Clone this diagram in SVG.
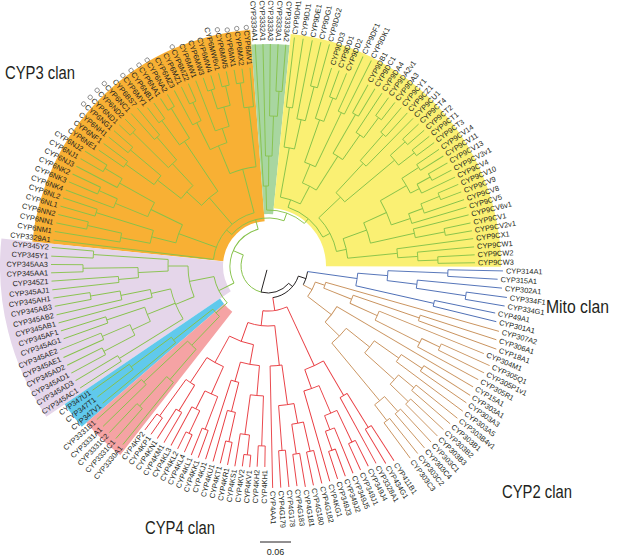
<svg xmlns="http://www.w3.org/2000/svg" width="617" height="558" viewBox="0 0 617 558">
<style>
#wedges circle{fill:none}
#connectors line,#connectors circle{fill:none;stroke-width:0.9}
.cg{stroke:#86c24a}.cr{stroke:#e8393e}.cb{stroke:#c9935e}.cm{stroke:#4a6cb4}.ck{stroke:#231f20}
#labels text{font-family:"Liberation Sans",Arial,sans-serif;font-size:7.4px;fill:#231f20;dominant-baseline:central}
#labels .e{text-anchor:end}
.mk{fill:none;stroke:#555;stroke-width:0.6}
.clan{font-family:"Liberation Sans",Arial,sans-serif;font-size:17.5px;fill:#231f20}
</style>
<rect width="617" height="558" fill="#fff"/>
<g transform="translate(268,266)">
<g id="wedges">
<circle r="141" stroke="#f8b034" stroke-width="192" pathLength="360" stroke-dasharray="79.8 999" transform="rotate(185.9)"/>
<circle r="137" stroke="#a8d6a0" stroke-width="170" pathLength="360" stroke-dasharray="9.9 999" transform="rotate(265.7)"/>
<circle r="145.5" stroke="#faf073" stroke-width="175" pathLength="360" stroke-dasharray="84.6 999" transform="rotate(275.6)"/>
<circle r="156.5" stroke="#e5d6ea" stroke-width="223" pathLength="360" stroke-dasharray="40.1 999" transform="rotate(145.8)"/>
<circle r="152" stroke="#60c9ec" stroke-width="188" pathLength="360" stroke-dasharray="6.6 999" transform="rotate(139.2)"/>
<circle r="149" stroke="#f5a3a4" stroke-width="182" pathLength="360" stroke-dasharray="11.2 999" transform="rotate(128)"/>
</g>
<g id="connectors">
<g class="ck">
<line x1="4" x2="27" transform="rotate(105)"/>
<circle r="27" pathLength="360" stroke-dasharray="65 999" transform="rotate(40)"/>
<line x1="27" x2="32" transform="rotate(40)"/>
<circle r="32" pathLength="360" stroke-dasharray="62.95 999" transform="rotate(18.4)"/>
<line x1="32" x2="40" transform="rotate(18.4)"/>
<circle r="40" pathLength="360" stroke-dasharray="20.1 999" transform="rotate(8)"/>
</g>
<g class="cg">
<circle r="27" pathLength="360" stroke-dasharray="99 999" transform="rotate(105)"/>
<line x1="27" x2="38" transform="rotate(204)"/>
<circle r="38" pathLength="360" stroke-dasharray="101.6 999" transform="rotate(153.4)"/>
<line x1="38" x2="55" transform="rotate(153.4)"/>
<line x1="38" x2="48" transform="rotate(255)"/>
<circle r="48" pathLength="360" stroke-dasharray="68.5 999" transform="rotate(221)"/>
<line x1="48" x2="55" transform="rotate(221)"/>
<line x1="48" x2="56" transform="rotate(289.5)"/>
<circle r="56" pathLength="360" stroke-dasharray="41.95 999" transform="rotate(268.55)"/>
<line x1="56" x2="80" transform="rotate(268.55)"/>
<line x1="56" x2="62" transform="rotate(310.5)"/>
<circle r="62" pathLength="360" stroke-dasharray="43.4 999" transform="rotate(288.85)"/>
<line x1="62" x2="70" transform="rotate(288.85)"/>
<line x1="62" x2="70" transform="rotate(332.25)"/>
<circle r="55" pathLength="360" stroke-dasharray="68.45 999" transform="rotate(186.9)"/>
<line x1="55" x2="216" transform="rotate(186.9)"/>
<line x1="55" x2="95" transform="rotate(199.9)"/>
<circle r="95" pathLength="360" stroke-dasharray="11.65 999" transform="rotate(194.1)"/>
<line x1="95" x2="120" transform="rotate(194.1)"/>
<circle r="120" pathLength="360" stroke-dasharray="6.35 999" transform="rotate(190.9)"/>
<line x1="120" x2="150" transform="rotate(190.9)"/>
<circle r="150" pathLength="360" stroke-dasharray="3.45 999" transform="rotate(189.2)"/>
<line x1="150" x2="216" transform="rotate(189.2)"/>
<line x1="150" x2="185" transform="rotate(192.65)"/>
<circle r="185" pathLength="360" stroke-dasharray="2.3 999" transform="rotate(191.5)"/>
<line x1="185" x2="216" transform="rotate(191.5)"/>
<line x1="185" x2="216" transform="rotate(193.8)"/>
<line x1="120" x2="180" transform="rotate(197.25)"/>
<circle r="180" pathLength="360" stroke-dasharray="2.3 999" transform="rotate(196.1)"/>
<line x1="180" x2="216" transform="rotate(196.1)"/>
<line x1="180" x2="216" transform="rotate(198.4)"/>
<line x1="95" x2="130" transform="rotate(205.75)"/>
<circle r="130" pathLength="360" stroke-dasharray="6.9 999" transform="rotate(202.3)"/>
<line x1="130" x2="165" transform="rotate(202.3)"/>
<circle r="165" pathLength="360" stroke-dasharray="3.45 999" transform="rotate(200.6)"/>
<line x1="165" x2="216" transform="rotate(200.6)"/>
<line x1="165" x2="185" transform="rotate(204.05)"/>
<circle r="185" pathLength="360" stroke-dasharray="2.3 999" transform="rotate(202.9)"/>
<line x1="185" x2="216" transform="rotate(202.9)"/>
<line x1="185" x2="216" transform="rotate(205.2)"/>
<line x1="130" x2="170" transform="rotate(209.2)"/>
<circle r="170" pathLength="360" stroke-dasharray="3.45 999" transform="rotate(207.5)"/>
<line x1="170" x2="216" transform="rotate(207.5)"/>
<line x1="170" x2="190" transform="rotate(210.95)"/>
<circle r="190" pathLength="360" stroke-dasharray="2.3 999" transform="rotate(209.8)"/>
<line x1="190" x2="216" transform="rotate(209.8)"/>
<line x1="190" x2="216" transform="rotate(212.1)"/>
<line x1="55" x2="90" transform="rotate(229.3)"/>
<circle r="90" pathLength="360" stroke-dasharray="13.75 999" transform="rotate(222.4)"/>
<line x1="90" x2="110" transform="rotate(222.4)"/>
<circle r="110" pathLength="360" stroke-dasharray="9.1 999" transform="rotate(217.85)"/>
<line x1="110" x2="140" transform="rotate(217.85)"/>
<circle r="140" pathLength="360" stroke-dasharray="4.6 999" transform="rotate(215.55)"/>
<line x1="140" x2="175" transform="rotate(215.55)"/>
<circle r="175" pathLength="360" stroke-dasharray="2.3 999" transform="rotate(214.4)"/>
<line x1="175" x2="205" transform="rotate(214.4)"/>
<line x1="175" x2="205" transform="rotate(216.7)"/>
<line x1="140" x2="180" transform="rotate(220.15)"/>
<circle r="180" pathLength="360" stroke-dasharray="2.3 999" transform="rotate(219)"/>
<line x1="180" x2="205" transform="rotate(219)"/>
<line x1="180" x2="205" transform="rotate(221.3)"/>
<line x1="110" x2="140" transform="rotate(226.95)"/>
<circle r="140" pathLength="360" stroke-dasharray="4.6 999" transform="rotate(224.65)"/>
<line x1="140" x2="190" transform="rotate(224.65)"/>
<circle r="190" pathLength="360" stroke-dasharray="2.3 999" transform="rotate(223.5)"/>
<line x1="190" x2="205" transform="rotate(223.5)"/>
<line x1="190" x2="205" transform="rotate(225.8)"/>
<line x1="140" x2="170" transform="rotate(229.25)"/>
<circle r="170" pathLength="360" stroke-dasharray="2.3 999" transform="rotate(228.1)"/>
<line x1="170" x2="205" transform="rotate(228.1)"/>
<line x1="170" x2="205" transform="rotate(230.4)"/>
<line x1="90" x2="150" transform="rotate(236.15)"/>
<circle r="150" pathLength="360" stroke-dasharray="4.6 999" transform="rotate(233.85)"/>
<line x1="150" x2="180" transform="rotate(233.85)"/>
<circle r="180" pathLength="360" stroke-dasharray="2.3 999" transform="rotate(232.7)"/>
<line x1="180" x2="199" transform="rotate(232.7)"/>
<line x1="180" x2="199" transform="rotate(235)"/>
<line x1="150" x2="185" transform="rotate(238.45)"/>
<circle r="185" pathLength="360" stroke-dasharray="2.3 999" transform="rotate(237.3)"/>
<line x1="185" x2="199" transform="rotate(237.3)"/>
<line x1="185" x2="199" transform="rotate(239.6)"/>
<line x1="55" x2="100" transform="rotate(255.35)"/>
<circle r="100" pathLength="360" stroke-dasharray="15.5 999" transform="rotate(247.6)"/>
<line x1="100" x2="130" transform="rotate(247.6)"/>
<circle r="130" pathLength="360" stroke-dasharray="8 999" transform="rotate(243.6)"/>
<line x1="130" x2="160" transform="rotate(243.6)"/>
<circle r="160" pathLength="360" stroke-dasharray="3.4 999" transform="rotate(241.9)"/>
<line x1="160" x2="199" transform="rotate(241.9)"/>
<line x1="160" x2="180" transform="rotate(245.3)"/>
<circle r="180" pathLength="360" stroke-dasharray="2.2 999" transform="rotate(244.2)"/>
<line x1="180" x2="199" transform="rotate(244.2)"/>
<line x1="180" x2="199" transform="rotate(246.4)"/>
<line x1="130" x2="145" transform="rotate(251.6)"/>
<circle r="145" pathLength="360" stroke-dasharray="5.75 999" transform="rotate(248.7)"/>
<line x1="145" x2="199" transform="rotate(248.7)"/>
<line x1="145" x2="165" transform="rotate(254.45)"/>
<circle r="165" pathLength="360" stroke-dasharray="4.6 999" transform="rotate(252.15)"/>
<line x1="165" x2="185" transform="rotate(252.15)"/>
<circle r="185" pathLength="360" stroke-dasharray="2.3 999" transform="rotate(251)"/>
<line x1="185" x2="199" transform="rotate(251)"/>
<line x1="185" x2="199" transform="rotate(253.3)"/>
<line x1="165" x2="185" transform="rotate(256.75)"/>
<circle r="185" pathLength="360" stroke-dasharray="2.3 999" transform="rotate(255.6)"/>
<line x1="185" x2="199" transform="rotate(255.6)"/>
<line x1="185" x2="199" transform="rotate(257.9)"/>
<line x1="100" x2="160" transform="rotate(263.1)"/>
<circle r="160" pathLength="360" stroke-dasharray="3.45 999" transform="rotate(261.35)"/>
<line x1="160" x2="199" transform="rotate(264.8)"/>
<line x1="160" x2="185" transform="rotate(261.35)"/>
<circle r="185" pathLength="360" stroke-dasharray="2.3 999" transform="rotate(260.2)"/>
<line x1="185" x2="199" transform="rotate(260.2)"/>
<line x1="185" x2="199" transform="rotate(262.5)"/>
<circle r="80" pathLength="360" stroke-dasharray="3.7 999" transform="rotate(266.7)"/>
<line x1="80" x2="222" transform="rotate(266.7)"/>
<line x1="80" x2="110" transform="rotate(270.4)"/>
<circle r="110" pathLength="360" stroke-dasharray="3.4 999" transform="rotate(268.7)"/>
<line x1="110" x2="222" transform="rotate(268.7)"/>
<line x1="110" x2="150" transform="rotate(272.1)"/>
<circle r="150" pathLength="360" stroke-dasharray="3 999" transform="rotate(270.6)"/>
<line x1="150" x2="222" transform="rotate(270.6)"/>
<line x1="150" x2="175" transform="rotate(273.6)"/>
<circle r="175" pathLength="360" stroke-dasharray="2 999" transform="rotate(272.6)"/>
<line x1="175" x2="222" transform="rotate(272.6)"/>
<line x1="175" x2="222" transform="rotate(274.6)"/>
<circle r="70" pathLength="360" stroke-dasharray="17.3 999" transform="rotate(280.2)"/>
<line x1="70" x2="120" transform="rotate(280.2)"/>
<circle r="120" pathLength="360" stroke-dasharray="5.05 999" transform="rotate(277.7)"/>
<line x1="120" x2="160" transform="rotate(277.7)"/>
<circle r="160" pathLength="360" stroke-dasharray="2.2 999" transform="rotate(276.6)"/>
<line x1="160" x2="230" transform="rotate(276.6)"/>
<line x1="160" x2="230" transform="rotate(278.8)"/>
<line x1="120" x2="150" transform="rotate(282.75)"/>
<circle r="150" pathLength="360" stroke-dasharray="3.3 999" transform="rotate(281.1)"/>
<line x1="150" x2="230" transform="rotate(281.1)"/>
<line x1="150" x2="185" transform="rotate(284.4)"/>
<circle r="185" pathLength="360" stroke-dasharray="2.2 999" transform="rotate(283.3)"/>
<line x1="185" x2="230" transform="rotate(283.3)"/>
<line x1="185" x2="230" transform="rotate(285.5)"/>
<line x1="70" x2="90" transform="rotate(297.5)"/>
<circle r="90" pathLength="360" stroke-dasharray="10 999" transform="rotate(292.5)"/>
<line x1="90" x2="110" transform="rotate(292.5)"/>
<circle r="110" pathLength="360" stroke-dasharray="6.1 999" transform="rotate(289.45)"/>
<line x1="110" x2="155" transform="rotate(289.45)"/>
<circle r="155" pathLength="360" stroke-dasharray="3.3 999" transform="rotate(287.8)"/>
<line x1="155" x2="208" transform="rotate(287.8)"/>
<line x1="155" x2="180" transform="rotate(291.1)"/>
<circle r="180" pathLength="360" stroke-dasharray="2.2 999" transform="rotate(290)"/>
<line x1="180" x2="208" transform="rotate(290)"/>
<line x1="180" x2="208" transform="rotate(292.2)"/>
<line x1="110" x2="170" transform="rotate(295.55)"/>
<circle r="170" pathLength="360" stroke-dasharray="2.3 999" transform="rotate(294.4)"/>
<line x1="170" x2="230" transform="rotate(294.4)"/>
<line x1="170" x2="230" transform="rotate(296.7)"/>
<line x1="90" x2="130" transform="rotate(302.5)"/>
<circle r="130" pathLength="360" stroke-dasharray="5.05 999" transform="rotate(300)"/>
<line x1="130" x2="175" transform="rotate(300)"/>
<circle r="175" pathLength="360" stroke-dasharray="2.2 999" transform="rotate(298.9)"/>
<line x1="175" x2="207" transform="rotate(298.9)"/>
<line x1="175" x2="207" transform="rotate(301.1)"/>
<line x1="130" x2="160" transform="rotate(305.05)"/>
<circle r="160" pathLength="360" stroke-dasharray="3.3 999" transform="rotate(303.4)"/>
<line x1="160" x2="207" transform="rotate(303.4)"/>
<line x1="160" x2="185" transform="rotate(306.7)"/>
<circle r="185" pathLength="360" stroke-dasharray="2.2 999" transform="rotate(305.6)"/>
<line x1="185" x2="207" transform="rotate(305.6)"/>
<line x1="185" x2="207" transform="rotate(307.8)"/>
<circle r="70" pathLength="360" stroke-dasharray="31.5 999" transform="rotate(316.5)"/>
<line x1="70" x2="100" transform="rotate(316.5)"/>
<circle r="100" pathLength="360" stroke-dasharray="7.25 999" transform="rotate(312.85)"/>
<line x1="100" x2="140" transform="rotate(312.85)"/>
<circle r="140" pathLength="360" stroke-dasharray="3.3 999" transform="rotate(311.2)"/>
<line x1="140" x2="207" transform="rotate(314.5)"/>
<line x1="140" x2="175" transform="rotate(311.2)"/>
<circle r="175" pathLength="360" stroke-dasharray="2.2 999" transform="rotate(310.1)"/>
<line x1="175" x2="207" transform="rotate(310.1)"/>
<line x1="175" x2="207" transform="rotate(312.3)"/>
<line x1="100" x2="165" transform="rotate(320.1)"/>
<circle r="165" pathLength="360" stroke-dasharray="4.45 999" transform="rotate(317.85)"/>
<line x1="165" x2="185" transform="rotate(317.85)"/>
<circle r="185" pathLength="360" stroke-dasharray="2.3 999" transform="rotate(316.7)"/>
<line x1="185" x2="207" transform="rotate(316.7)"/>
<line x1="185" x2="207" transform="rotate(319)"/>
<line x1="165" x2="185" transform="rotate(322.3)"/>
<circle r="185" pathLength="360" stroke-dasharray="2.2 999" transform="rotate(321.2)"/>
<line x1="185" x2="207" transform="rotate(321.2)"/>
<line x1="185" x2="207" transform="rotate(323.4)"/>
<line x1="70" x2="80" transform="rotate(348)"/>
<circle r="80" pathLength="360" stroke-dasharray="14.4 999" transform="rotate(340)"/>
<line x1="80" x2="105" transform="rotate(340)"/>
<circle r="105" pathLength="360" stroke-dasharray="11.7 999" transform="rotate(335.7)"/>
<line x1="105" x2="130" transform="rotate(335.7)"/>
<circle r="130" pathLength="360" stroke-dasharray="11.7 999" transform="rotate(329.85)"/>
<line x1="130" x2="160" transform="rotate(329.85)"/>
<circle r="160" pathLength="360" stroke-dasharray="6.1 999" transform="rotate(326.8)"/>
<line x1="160" x2="180" transform="rotate(326.8)"/>
<circle r="180" pathLength="360" stroke-dasharray="2.2 999" transform="rotate(325.7)"/>
<line x1="180" x2="207" transform="rotate(325.7)"/>
<line x1="180" x2="207" transform="rotate(327.9)"/>
<line x1="160" x2="170" transform="rotate(332.9)"/>
<circle r="170" pathLength="360" stroke-dasharray="3.35 999" transform="rotate(331.25)"/>
<line x1="170" x2="207" transform="rotate(334.6)"/>
<line x1="170" x2="185" transform="rotate(331.25)"/>
<circle r="185" pathLength="360" stroke-dasharray="2.3 999" transform="rotate(330.1)"/>
<line x1="185" x2="207" transform="rotate(330.1)"/>
<line x1="185" x2="207" transform="rotate(332.4)"/>
<line x1="130" x2="150" transform="rotate(341.55)"/>
<circle r="150" pathLength="360" stroke-dasharray="3.9 999" transform="rotate(339.6)"/>
<line x1="150" x2="207" transform="rotate(343.5)"/>
<line x1="150" x2="165" transform="rotate(339.6)"/>
<circle r="165" pathLength="360" stroke-dasharray="3.4 999" transform="rotate(337.9)"/>
<line x1="165" x2="207" transform="rotate(341.3)"/>
<line x1="165" x2="185" transform="rotate(337.9)"/>
<circle r="185" pathLength="360" stroke-dasharray="2.2 999" transform="rotate(336.8)"/>
<line x1="185" x2="207" transform="rotate(336.8)"/>
<line x1="185" x2="207" transform="rotate(339)"/>
<line x1="105" x2="150" transform="rotate(347.4)"/>
<circle r="150" pathLength="360" stroke-dasharray="3.4 999" transform="rotate(345.7)"/>
<line x1="150" x2="207" transform="rotate(345.7)"/>
<line x1="150" x2="180" transform="rotate(349.1)"/>
<circle r="180" pathLength="360" stroke-dasharray="2.2 999" transform="rotate(348)"/>
<line x1="180" x2="207" transform="rotate(348)"/>
<line x1="180" x2="207" transform="rotate(350.2)"/>
<line x1="80" x2="130" transform="rotate(354.4)"/>
<circle r="130" pathLength="360" stroke-dasharray="3.95 999" transform="rotate(352.4)"/>
<line x1="130" x2="207" transform="rotate(352.4)"/>
<line x1="130" x2="150" transform="rotate(356.35)"/>
<circle r="150" pathLength="360" stroke-dasharray="3.3 999" transform="rotate(354.7)"/>
<line x1="150" x2="207" transform="rotate(354.7)"/>
<line x1="150" x2="170" transform="rotate(358)"/>
<circle r="170" pathLength="360" stroke-dasharray="2.2 999" transform="rotate(356.9)"/>
<line x1="170" x2="207" transform="rotate(356.9)"/>
<line x1="170" x2="207" transform="rotate(359.1)"/>
<circle r="55" pathLength="360" stroke-dasharray="31 999" transform="rotate(137.9)"/>
<line x1="55" x2="70" transform="rotate(137.9)"/>
<circle r="70" pathLength="360" stroke-dasharray="8.05 999" transform="rotate(133.9)"/>
<line x1="70" x2="110" transform="rotate(133.9)"/>
<circle r="110" pathLength="360" stroke-dasharray="6.15 999" transform="rotate(130.8)"/>
<line x1="110" x2="150" transform="rotate(130.8)"/>
<circle r="150" pathLength="360" stroke-dasharray="3.4 999" transform="rotate(129.1)"/>
<line x1="150" x2="230" transform="rotate(129.1)"/>
<line x1="150" x2="190" transform="rotate(132.5)"/>
<circle r="190" pathLength="360" stroke-dasharray="2.2 999" transform="rotate(131.4)"/>
<line x1="190" x2="230" transform="rotate(131.4)"/>
<line x1="190" x2="230" transform="rotate(133.6)"/>
<line x1="110" x2="170" transform="rotate(136.95)"/>
<circle r="170" pathLength="360" stroke-dasharray="2.3 999" transform="rotate(135.8)"/>
<line x1="170" x2="230" transform="rotate(135.8)"/>
<line x1="170" x2="230" transform="rotate(138.1)"/>
<line x1="70" x2="120" transform="rotate(141.95)"/>
<circle r="120" pathLength="360" stroke-dasharray="3.3 999" transform="rotate(140.3)"/>
<line x1="120" x2="215" transform="rotate(140.3)"/>
<line x1="120" x2="170" transform="rotate(143.6)"/>
<circle r="170" pathLength="360" stroke-dasharray="2.2 999" transform="rotate(142.5)"/>
<line x1="170" x2="215" transform="rotate(142.5)"/>
<line x1="170" x2="215" transform="rotate(144.7)"/>
<line x1="55" x2="80" transform="rotate(168.9)"/>
<circle r="80" pathLength="360" stroke-dasharray="22.6 999" transform="rotate(157.4)"/>
<line x1="80" x2="100" transform="rotate(157.4)"/>
<circle r="100" pathLength="360" stroke-dasharray="18.65 999" transform="rotate(148.1)"/>
<line x1="100" x2="175" transform="rotate(148.1)"/>
<circle r="175" pathLength="360" stroke-dasharray="2.2 999" transform="rotate(147)"/>
<line x1="175" x2="224" transform="rotate(147)"/>
<line x1="175" x2="224" transform="rotate(149.2)"/>
<line x1="100" x2="130" transform="rotate(158.15)"/>
<circle r="130" pathLength="360" stroke-dasharray="6.7 999" transform="rotate(154.8)"/>
<line x1="130" x2="150" transform="rotate(154.8)"/>
<circle r="150" pathLength="360" stroke-dasharray="4.45 999" transform="rotate(152.55)"/>
<line x1="150" x2="185" transform="rotate(152.55)"/>
<circle r="185" pathLength="360" stroke-dasharray="2.3 999" transform="rotate(151.4)"/>
<line x1="185" x2="224" transform="rotate(151.4)"/>
<line x1="185" x2="224" transform="rotate(153.7)"/>
<line x1="150" x2="180" transform="rotate(157)"/>
<circle r="180" pathLength="360" stroke-dasharray="2.2 999" transform="rotate(155.9)"/>
<line x1="180" x2="224" transform="rotate(155.9)"/>
<line x1="180" x2="224" transform="rotate(158.1)"/>
<line x1="130" x2="170" transform="rotate(161.5)"/>
<circle r="170" pathLength="360" stroke-dasharray="2.2 999" transform="rotate(160.4)"/>
<line x1="170" x2="217" transform="rotate(160.4)"/>
<line x1="170" x2="217" transform="rotate(162.6)"/>
<line x1="100" x2="120" transform="rotate(166.75)"/>
<circle r="120" pathLength="360" stroke-dasharray="3.9 999" transform="rotate(164.8)"/>
<line x1="120" x2="217" transform="rotate(164.8)"/>
<line x1="120" x2="150" transform="rotate(168.7)"/>
<circle r="150" pathLength="360" stroke-dasharray="3.4 999" transform="rotate(167)"/>
<line x1="150" x2="217" transform="rotate(167)"/>
<line x1="150" x2="180" transform="rotate(170.4)"/>
<circle r="180" pathLength="360" stroke-dasharray="2.2 999" transform="rotate(169.3)"/>
<line x1="180" x2="217" transform="rotate(169.3)"/>
<line x1="180" x2="217" transform="rotate(171.5)"/>
<line x1="80" x2="100" transform="rotate(180)"/>
<circle r="100" pathLength="360" stroke-dasharray="6.65 999" transform="rotate(177.1)"/>
<line x1="100" x2="130" transform="rotate(177.1)"/>
<circle r="130" pathLength="360" stroke-dasharray="4.45 999" transform="rotate(174.85)"/>
<line x1="130" x2="150" transform="rotate(174.85)"/>
<circle r="150" pathLength="360" stroke-dasharray="2.3 999" transform="rotate(173.7)"/>
<line x1="150" x2="217" transform="rotate(173.7)"/>
<line x1="150" x2="217" transform="rotate(176)"/>
<line x1="130" x2="185" transform="rotate(179.3)"/>
<circle r="185" pathLength="360" stroke-dasharray="2.2 999" transform="rotate(178.2)"/>
<line x1="185" x2="217" transform="rotate(178.2)"/>
<line x1="185" x2="217" transform="rotate(180.4)"/>
<line x1="100" x2="175" transform="rotate(183.75)"/>
<circle r="175" pathLength="360" stroke-dasharray="2.3 999" transform="rotate(182.6)"/>
<line x1="175" x2="217" transform="rotate(182.6)"/>
<line x1="175" x2="217" transform="rotate(184.9)"/>
</g>
<g class="cr">
<line x1="32" x2="45" transform="rotate(81.35)"/>
<circle r="45" pathLength="360" stroke-dasharray="31.45 999" transform="rotate(65.1)"/>
<line x1="45" x2="110" transform="rotate(65.1)"/>
<circle r="110" pathLength="360" stroke-dasharray="10.75 999" transform="rotate(59.7)"/>
<line x1="110" x2="150" transform="rotate(59.7)"/>
<circle r="150" pathLength="360" stroke-dasharray="3.15 999" transform="rotate(58.15)"/>
<line x1="150" x2="225" transform="rotate(61.3)"/>
<line x1="150" x2="190" transform="rotate(58.15)"/>
<circle r="190" pathLength="360" stroke-dasharray="2.1 999" transform="rotate(57.1)"/>
<line x1="190" x2="232" transform="rotate(57.1)"/>
<line x1="190" x2="230" transform="rotate(59.2)"/>
<line x1="110" x2="130" transform="rotate(70.45)"/>
<circle r="130" pathLength="360" stroke-dasharray="7.1 999" transform="rotate(66.9)"/>
<line x1="130" x2="224" transform="rotate(74)"/>
<line x1="130" x2="160" transform="rotate(66.9)"/>
<circle r="160" pathLength="360" stroke-dasharray="4.8 999" transform="rotate(64.5)"/>
<line x1="160" x2="195" transform="rotate(64.5)"/>
<circle r="195" pathLength="360" stroke-dasharray="2.2 999" transform="rotate(63.4)"/>
<line x1="195" x2="224" transform="rotate(63.4)"/>
<line x1="195" x2="224" transform="rotate(65.6)"/>
<line x1="160" x2="175" transform="rotate(69.3)"/>
<circle r="175" pathLength="360" stroke-dasharray="3.15 999" transform="rotate(67.7)"/>
<line x1="175" x2="224" transform="rotate(67.7)"/>
<line x1="175" x2="195" transform="rotate(70.85)"/>
<circle r="195" pathLength="360" stroke-dasharray="2.1 999" transform="rotate(69.8)"/>
<line x1="195" x2="224" transform="rotate(69.8)"/>
<line x1="195" x2="224" transform="rotate(71.9)"/>
<line x1="45" x2="60" transform="rotate(96.55)"/>
<circle r="60" pathLength="360" stroke-dasharray="26.1 999" transform="rotate(83.5)"/>
<line x1="60" x2="100" transform="rotate(83.5)"/>
<circle r="100" pathLength="360" stroke-dasharray="6.8 999" transform="rotate(82)"/>
<line x1="100" x2="222" transform="rotate(88.8)"/>
<line x1="100" x2="140" transform="rotate(82)"/>
<circle r="140" pathLength="360" stroke-dasharray="6.35 999" transform="rotate(79.3)"/>
<line x1="140" x2="185" transform="rotate(85.65)"/>
<circle r="185" pathLength="360" stroke-dasharray="2.1 999" transform="rotate(84.6)"/>
<line x1="185" x2="222" transform="rotate(84.6)"/>
<line x1="185" x2="222" transform="rotate(86.7)"/>
<line x1="140" x2="160" transform="rotate(79.3)"/>
<circle r="160" pathLength="360" stroke-dasharray="4.25 999" transform="rotate(77.2)"/>
<line x1="160" x2="190" transform="rotate(77.2)"/>
<circle r="190" pathLength="360" stroke-dasharray="2.2 999" transform="rotate(76.1)"/>
<line x1="190" x2="224" transform="rotate(76.1)"/>
<line x1="190" x2="224" transform="rotate(78.3)"/>
<line x1="160" x2="190" transform="rotate(81.45)"/>
<circle r="190" pathLength="360" stroke-dasharray="2.1 999" transform="rotate(80.4)"/>
<line x1="190" x2="224" transform="rotate(80.4)"/>
<line x1="190" x2="222" transform="rotate(82.5)"/>
<line x1="60" x2="80" transform="rotate(109.6)"/>
<circle r="80" pathLength="360" stroke-dasharray="18.35 999" transform="rotate(100.45)"/>
<line x1="80" x2="100" transform="rotate(100.45)"/>
<circle r="100" pathLength="360" stroke-dasharray="11.1 999" transform="rotate(94.9)"/>
<line x1="100" x2="130" transform="rotate(94.9)"/>
<circle r="130" pathLength="360" stroke-dasharray="5.8 999" transform="rotate(92)"/>
<line x1="130" x2="180" transform="rotate(92)"/>
<circle r="180" pathLength="360" stroke-dasharray="2.2 999" transform="rotate(90.9)"/>
<line x1="180" x2="201" transform="rotate(90.9)"/>
<line x1="180" x2="201" transform="rotate(93.1)"/>
<line x1="130" x2="170" transform="rotate(97.8)"/>
<circle r="170" pathLength="360" stroke-dasharray="3.15 999" transform="rotate(96.25)"/>
<line x1="170" x2="203" transform="rotate(99.4)"/>
<line x1="170" x2="190" transform="rotate(96.25)"/>
<circle r="190" pathLength="360" stroke-dasharray="2.1 999" transform="rotate(95.2)"/>
<line x1="190" x2="202" transform="rotate(95.2)"/>
<line x1="190" x2="202" transform="rotate(97.3)"/>
<line x1="100" x2="120" transform="rotate(106)"/>
<circle r="120" pathLength="360" stroke-dasharray="3.8 999" transform="rotate(104.1)"/>
<line x1="120" x2="203" transform="rotate(107.9)"/>
<line x1="120" x2="150" transform="rotate(104.1)"/>
<circle r="150" pathLength="360" stroke-dasharray="3.15 999" transform="rotate(102.55)"/>
<line x1="150" x2="203" transform="rotate(105.7)"/>
<line x1="150" x2="180" transform="rotate(102.55)"/>
<circle r="180" pathLength="360" stroke-dasharray="2.1 999" transform="rotate(101.5)"/>
<line x1="180" x2="203" transform="rotate(101.5)"/>
<line x1="180" x2="203" transform="rotate(103.6)"/>
<line x1="80" x2="110" transform="rotate(118.8)"/>
<circle r="110" pathLength="360" stroke-dasharray="9.8 999" transform="rotate(113.9)"/>
<line x1="110" x2="140" transform="rotate(113.9)"/>
<circle r="140" pathLength="360" stroke-dasharray="5.75 999" transform="rotate(111.05)"/>
<line x1="140" x2="175" transform="rotate(111.05)"/>
<circle r="175" pathLength="360" stroke-dasharray="2.1 999" transform="rotate(110)"/>
<line x1="175" x2="204" transform="rotate(110)"/>
<line x1="175" x2="204" transform="rotate(112.1)"/>
<line x1="140" x2="160" transform="rotate(116.8)"/>
<circle r="160" pathLength="360" stroke-dasharray="3.15 999" transform="rotate(115.25)"/>
<line x1="160" x2="204" transform="rotate(118.4)"/>
<line x1="160" x2="185" transform="rotate(115.25)"/>
<circle r="185" pathLength="360" stroke-dasharray="2.1 999" transform="rotate(114.2)"/>
<line x1="185" x2="204" transform="rotate(114.2)"/>
<line x1="185" x2="204" transform="rotate(116.3)"/>
<line x1="110" x2="140" transform="rotate(123.7)"/>
<circle r="140" pathLength="360" stroke-dasharray="4.25 999" transform="rotate(121.6)"/>
<line x1="140" x2="170" transform="rotate(121.6)"/>
<circle r="170" pathLength="360" stroke-dasharray="2.2 999" transform="rotate(120.5)"/>
<line x1="170" x2="205" transform="rotate(120.5)"/>
<line x1="170" x2="205" transform="rotate(122.7)"/>
<line x1="140" x2="185" transform="rotate(125.85)"/>
<circle r="185" pathLength="360" stroke-dasharray="2.1 999" transform="rotate(124.8)"/>
<line x1="185" x2="205" transform="rotate(124.8)"/>
<line x1="185" x2="205" transform="rotate(126.9)"/>
</g>
<g class="cm">
<line x1="40" x2="90" transform="rotate(8)"/>
<circle r="90" pathLength="360" stroke-dasharray="8.1 999" transform="rotate(4.6)"/>
<line x1="90" x2="120" transform="rotate(4.6)"/>
<circle r="120" pathLength="360" stroke-dasharray="4.75 999" transform="rotate(2.25)"/>
<line x1="120" x2="180" transform="rotate(2.25)"/>
<circle r="180" pathLength="360" stroke-dasharray="2.1 999" transform="rotate(1.2)"/>
<line x1="180" x2="235" transform="rotate(1.2)"/>
<line x1="180" x2="230" transform="rotate(3.3)"/>
<line x1="120" x2="150" transform="rotate(7)"/>
<circle r="150" pathLength="360" stroke-dasharray="3.15 999" transform="rotate(5.4)"/>
<line x1="150" x2="235" transform="rotate(5.4)"/>
<line x1="150" x2="200" transform="rotate(8.55)"/>
<circle r="200" pathLength="360" stroke-dasharray="2.1 999" transform="rotate(7.5)"/>
<line x1="200" x2="241" transform="rotate(7.5)"/>
<line x1="200" x2="240" transform="rotate(9.6)"/>
<line x1="90" x2="170" transform="rotate(12.7)"/>
<circle r="170" pathLength="360" stroke-dasharray="2 999" transform="rotate(11.7)"/>
<line x1="170" x2="232" transform="rotate(11.7)"/>
<line x1="170" x2="235" transform="rotate(13.7)"/>
</g>
<g class="cb">
<line x1="40" x2="50" transform="rotate(28.1)"/>
<circle r="50" pathLength="360" stroke-dasharray="18.75 999" transform="rotate(18.75)"/>
<line x1="50" x2="60" transform="rotate(18.75)"/>
<circle r="60" pathLength="360" stroke-dasharray="5.9 999" transform="rotate(15.8)"/>
<line x1="60" x2="240" transform="rotate(15.8)"/>
<line x1="60" x2="90" transform="rotate(21.7)"/>
<circle r="90" pathLength="360" stroke-dasharray="5.5 999" transform="rotate(18.95)"/>
<line x1="90" x2="160" transform="rotate(18.95)"/>
<circle r="160" pathLength="360" stroke-dasharray="2.1 999" transform="rotate(17.9)"/>
<line x1="160" x2="240" transform="rotate(17.9)"/>
<line x1="160" x2="243" transform="rotate(20)"/>
<line x1="90" x2="120" transform="rotate(24.45)"/>
<circle r="120" pathLength="360" stroke-dasharray="4.7 999" transform="rotate(22.1)"/>
<line x1="120" x2="233" transform="rotate(22.1)"/>
<line x1="120" x2="170" transform="rotate(26.8)"/>
<circle r="170" pathLength="360" stroke-dasharray="3.15 999" transform="rotate(25.25)"/>
<line x1="170" x2="239" transform="rotate(28.4)"/>
<line x1="170" x2="190" transform="rotate(25.25)"/>
<circle r="190" pathLength="360" stroke-dasharray="2.1 999" transform="rotate(24.2)"/>
<line x1="190" x2="243" transform="rotate(24.2)"/>
<line x1="190" x2="241" transform="rotate(26.3)"/>
<line x1="50" x2="80" transform="rotate(37.5)"/>
<circle r="80" pathLength="360" stroke-dasharray="13.95 999" transform="rotate(30.5)"/>
<line x1="80" x2="238" transform="rotate(30.5)"/>
<line x1="80" x2="100" transform="rotate(44.45)"/>
<circle r="100" pathLength="360" stroke-dasharray="11.8 999" transform="rotate(38.55)"/>
<line x1="100" x2="130" transform="rotate(38.55)"/>
<circle r="130" pathLength="360" stroke-dasharray="6.8 999" transform="rotate(35.15)"/>
<line x1="130" x2="160" transform="rotate(35.15)"/>
<circle r="160" pathLength="360" stroke-dasharray="3.1 999" transform="rotate(33.6)"/>
<line x1="160" x2="243" transform="rotate(36.7)"/>
<line x1="160" x2="185" transform="rotate(33.6)"/>
<circle r="185" pathLength="360" stroke-dasharray="2 999" transform="rotate(32.6)"/>
<line x1="185" x2="240" transform="rotate(32.6)"/>
<line x1="185" x2="241" transform="rotate(34.6)"/>
<line x1="130" x2="170" transform="rotate(41.95)"/>
<circle r="170" pathLength="360" stroke-dasharray="4.2 999" transform="rotate(39.85)"/>
<line x1="170" x2="190" transform="rotate(39.85)"/>
<circle r="190" pathLength="360" stroke-dasharray="2.1 999" transform="rotate(38.8)"/>
<line x1="190" x2="243" transform="rotate(38.8)"/>
<line x1="190" x2="241" transform="rotate(40.9)"/>
<line x1="170" x2="195" transform="rotate(44.05)"/>
<circle r="195" pathLength="360" stroke-dasharray="2.1 999" transform="rotate(43)"/>
<line x1="195" x2="240" transform="rotate(43)"/>
<line x1="195" x2="240" transform="rotate(45.1)"/>
<line x1="100" x2="175" transform="rotate(50.35)"/>
<circle r="175" pathLength="360" stroke-dasharray="4.2 999" transform="rotate(48.25)"/>
<line x1="175" x2="195" transform="rotate(48.25)"/>
<circle r="195" pathLength="360" stroke-dasharray="2.1 999" transform="rotate(47.2)"/>
<line x1="195" x2="240" transform="rotate(47.2)"/>
<line x1="195" x2="240" transform="rotate(49.3)"/>
<line x1="175" x2="195" transform="rotate(52.45)"/>
<circle r="195" pathLength="360" stroke-dasharray="2.1 999" transform="rotate(51.4)"/>
<line x1="195" x2="240" transform="rotate(51.4)"/>
<line x1="195" x2="239" transform="rotate(53.5)"/>
</g>
</g>
<g id="labels">
<g id="CYP314A1" transform="rotate(1.2)"><text x="238">CYP314A1</text></g>
<g id="CYP315A1" transform="rotate(3.3)"><text x="233">CYP315A1</text></g>
<g id="CYP302A1" transform="rotate(5.4)"><text x="238">CYP302A1</text></g>
<g id="CYP334F1" transform="rotate(7.5)"><text x="244">CYP334F1</text></g>
<g id="CYP334G1" transform="rotate(9.6)"><text x="243">CYP334G1</text></g>
<g id="CYP49A1" transform="rotate(11.7)"><text x="235">CYP49A1</text></g>
<g id="CYP301A1" transform="rotate(13.7)"><text x="238">CYP301A1</text></g>
<g id="CYP307A2" transform="rotate(15.8)"><text x="243">CYP307A2</text></g>
<g id="CYP306A1" transform="rotate(17.9)"><text x="243">CYP306A1</text></g>
<g id="CYP18A1" transform="rotate(20)"><text x="246">CYP18A1</text></g>
<g id="CYP304M1" transform="rotate(22.1)"><text x="236">CYP304M1</text></g>
<g id="CYP305Q1" transform="rotate(24.2)"><text x="246">CYP305Q1</text></g>
<g id="CYP305P1v1" transform="rotate(26.3)"><text x="244">CYP305P1v1</text></g>
<g id="CYP305R1" transform="rotate(28.4)"><text x="242">CYP305R1</text></g>
<g id="CYP15A1" transform="rotate(30.5)"><text x="241">CYP15A1</text></g>
<g id="CYP303A1" transform="rotate(32.6)"><text x="243">CYP303A1</text></g>
<g id="CYP303A3" transform="rotate(34.6)"><text x="244">CYP303A3</text></g>
<g id="CYP303A5" transform="rotate(36.7)"><text x="246">CYP303A5</text></g>
<g id="CYP303B4v1" transform="rotate(38.8)"><text x="246">CYP303B4v1</text></g>
<g id="CYP303B1" transform="rotate(40.9)"><text x="244">CYP303B1</text></g>
<g id="CYP303B2" transform="rotate(43)"><text x="243">CYP303B2</text></g>
<g id="CYP303B3" transform="rotate(45.1)"><text x="243">CYP303B3</text></g>
<g id="CYP303C1" transform="rotate(47.2)"><text x="243">CYP303C1</text></g>
<g id="CYP303C4" transform="rotate(49.3)"><text x="243">CYP303C4</text></g>
<g id="CYP303C2" transform="rotate(51.4)"><text x="243">CYP303C2</text></g>
<g id="CYP303C3" transform="rotate(53.5)"><text x="242">CYP303C3</text></g>
<g id="CYP411B1" transform="rotate(57.1)"><text x="235">CYP411B1</text></g>
<g id="CYP434G1" transform="rotate(59.2)"><text x="233">CYP434G1</text></g>
<g id="CYP3328A1" transform="rotate(61.3)"><text x="228">CYP3328A1</text></g>
<g id="CYP349J4" transform="rotate(63.4)"><text x="227">CYP349J4</text></g>
<g id="CYP349J1" transform="rotate(65.6)"><text x="227">CYP349J1</text></g>
<g id="CYP349J5" transform="rotate(67.7)"><text x="227">CYP349J5</text></g>
<g id="CYP349J2" transform="rotate(69.8)"><text x="227">CYP349J2</text></g>
<g id="CYP349J3" transform="rotate(71.9)"><text x="227">CYP349J3</text></g>
<g id="CYP4KG1" transform="rotate(74)"><text x="227">CYP4KG1</text></g>
<g id="CYP4G182" transform="rotate(76.1)"><text x="227">CYP4G182</text></g>
<g id="CYP4G180" transform="rotate(78.3)"><text x="227">CYP4G180</text></g>
<g id="CYP4G181" transform="rotate(80.4)"><text x="227">CYP4G181</text></g>
<g id="CYP4G183" transform="rotate(82.5)"><text x="225">CYP4G183</text></g>
<g id="CYP4G178" transform="rotate(84.6)"><text x="225">CYP4G178</text></g>
<g id="CYP4G179" transform="rotate(86.7)"><text x="225">CYP4G179</text></g>
<g id="CYP4AA1" transform="rotate(88.8)"><text x="225">CYP4AA1</text></g>
<g id="CYP4KH1" transform="rotate(90.9)"><text class="e" x="-204" transform="rotate(180)">CYP4KH1</text></g>
<g id="CYP4KH2" transform="rotate(93.1)"><text class="e" x="-204" transform="rotate(180)">CYP4KH2</text></g>
<g id="CYP4KV1" transform="rotate(95.2)"><text class="e" x="-205" transform="rotate(180)">CYP4KV1</text></g>
<g id="CYP4KV2" transform="rotate(97.3)"><text class="e" x="-205" transform="rotate(180)">CYP4KV2</text></g>
<g id="CYP4KS1" transform="rotate(99.4)"><text class="e" x="-206" transform="rotate(180)">CYP4KS1</text></g>
<g id="CYP4KR1" transform="rotate(101.5)"><text class="e" x="-206" transform="rotate(180)">CYP4KR1</text></g>
<g id="CYP4KT1" transform="rotate(103.6)"><text class="e" x="-206" transform="rotate(180)">CYP4KT1</text></g>
<g id="CYP4KU1" transform="rotate(105.7)"><text class="e" x="-206" transform="rotate(180)">CYP4KU1</text></g>
<g id="CYP4KJ1" transform="rotate(107.9)"><text class="e" x="-206" transform="rotate(180)">CYP4KJ1</text></g>
<g id="CYP4KK1" transform="rotate(110)"><text class="e" x="-207" transform="rotate(180)">CYP4KK1</text></g>
<g id="CYP4KL1" transform="rotate(112.1)"><text class="e" x="-207" transform="rotate(180)">CYP4KL1</text></g>
<g id="CYP4KL4" transform="rotate(114.2)"><text class="e" x="-207" transform="rotate(180)">CYP4KL4</text></g>
<g id="CYP4KL2" transform="rotate(116.3)"><text class="e" x="-207" transform="rotate(180)">CYP4KL2</text></g>
<g id="CYP4KL3" transform="rotate(118.4)"><text class="e" x="-207" transform="rotate(180)">CYP4KL3</text></g>
<g id="CYP4KM1" transform="rotate(120.5)"><text class="e" x="-208" transform="rotate(180)">CYP4KM1</text></g>
<g id="CYP4KN1" transform="rotate(122.7)"><text class="e" x="-208" transform="rotate(180)">CYP4KN1</text></g>
<g id="CYP4KP1" transform="rotate(124.8)"><text class="e" x="-208" transform="rotate(180)">CYP4KP1</text></g>
<g id="CYP4KP2" transform="rotate(126.9)"><text class="e" x="-208" transform="rotate(180)">CYP4KP2</text></g>
<g id="CYP3330A1" transform="rotate(129.1)"><text class="e" x="-233" transform="rotate(180)">CYP3330A1</text></g>
<g id="CYP3331C1" transform="rotate(131.4)"><text class="e" x="-233" transform="rotate(180)">CYP3331C1</text></g>
<g id="CYP3331C2" transform="rotate(133.6)"><text class="e" x="-233" transform="rotate(180)">CYP3331C2</text></g>
<g id="CYP3331A1" transform="rotate(135.8)"><text class="e" x="-233" transform="rotate(180)">CYP3331A1</text></g>
<g id="CYP3331B1" transform="rotate(138.1)"><text class="e" x="-233" transform="rotate(180)">CYP3331B1</text></g>
<g id="CYP347V1" transform="rotate(140.3)"><text class="e" x="-218" transform="rotate(180)">CYP347V1</text></g>
<g id="CYP347T1" transform="rotate(142.5)"><text class="e" x="-218" transform="rotate(180)">CYP347T1</text></g>
<g id="CYP347U1" transform="rotate(144.7)"><text class="e" x="-218" transform="rotate(180)">CYP347U1</text></g>
<g id="CYP345AC1" transform="rotate(147)"><text class="e" x="-227" transform="rotate(180)">CYP345AC1</text></g>
<g id="CYP345AD3" transform="rotate(149.2)"><text class="e" x="-227" transform="rotate(180)">CYP345AD3</text></g>
<g id="CYP345AD1" transform="rotate(151.4)"><text class="e" x="-227" transform="rotate(180)">CYP345AD1</text></g>
<g id="CYP345AD2" transform="rotate(153.7)"><text class="e" x="-227" transform="rotate(180)">CYP345AD2</text></g>
<g id="CYP345AE1" transform="rotate(155.9)"><text class="e" x="-227" transform="rotate(180)">CYP345AE1</text></g>
<g id="CYP345AE2" transform="rotate(158.1)"><text class="e" x="-227" transform="rotate(180)">CYP345AE2</text></g>
<g id="CYP345AG1" transform="rotate(160.4)"><text class="e" x="-220" transform="rotate(180)">CYP345AG1</text></g>
<g id="CYP345AF1" transform="rotate(162.6)"><text class="e" x="-220" transform="rotate(180)">CYP345AF1</text></g>
<g id="CYP345AB1" transform="rotate(164.8)"><text class="e" x="-220" transform="rotate(180)">CYP345AB1</text></g>
<g id="CYP345AB2" transform="rotate(167)"><text class="e" x="-220" transform="rotate(180)">CYP345AB2</text></g>
<g id="CYP345AB3" transform="rotate(169.3)"><text class="e" x="-220" transform="rotate(180)">CYP345AB3</text></g>
<g id="CYP345AH1" transform="rotate(171.5)"><text class="e" x="-220" transform="rotate(180)">CYP345AH1</text></g>
<g id="CYP345AJ1" transform="rotate(173.7)"><text class="e" x="-220" transform="rotate(180)">CYP345AJ1</text></g>
<g id="CYP345Z1" transform="rotate(176)"><text class="e" x="-220" transform="rotate(180)">CYP345Z1</text></g>
<g id="CYP345AA1" transform="rotate(178.2)"><text class="e" x="-220" transform="rotate(180)">CYP345AA1</text></g>
<g id="CYP345AA3" transform="rotate(180.4)"><text class="e" x="-220" transform="rotate(180)">CYP345AA3</text></g>
<g id="CYP345Y1" transform="rotate(182.6)"><text class="e" x="-220" transform="rotate(180)">CYP345Y1</text></g>
<g id="CYP345Y2" transform="rotate(184.9)"><text class="e" x="-220" transform="rotate(180)">CYP345Y2</text></g>
<g id="CYP3329A1" transform="rotate(186.9)"><text class="e" x="-219" transform="rotate(180)">CYP3329A1</text></g>
<g id="CYP6NM1" transform="rotate(189.2)"><text class="e" x="-219" transform="rotate(180)">CYP6NM1</text></g>
<g id="CYP6NN1" transform="rotate(191.5)"><text class="e" x="-219" transform="rotate(180)">CYP6NN1</text></g>
<g id="CYP6NN2" transform="rotate(193.8)"><text class="e" x="-219" transform="rotate(180)">CYP6NN2</text></g>
<g id="CYP6NL1" transform="rotate(196.1)"><text class="e" x="-219" transform="rotate(180)">CYP6NL1</text></g>
<g id="CYP6NL2" transform="rotate(198.4)"><text class="e" x="-219" transform="rotate(180)">CYP6NL2</text></g>
<g id="CYP6NK4" transform="rotate(200.6)"><text class="e" x="-219" transform="rotate(180)">CYP6NK4</text></g>
<g id="CYP6NK3" transform="rotate(202.9)"><text class="e" x="-219" transform="rotate(180)">CYP6NK3</text></g>
<g id="CYP6NK2" transform="rotate(205.2)"><text class="e" x="-219" transform="rotate(180)">CYP6NK2</text></g>
<g id="CYP6NJ3" transform="rotate(207.5)"><text class="e" x="-219" transform="rotate(180)">CYP6NJ3</text></g>
<g id="CYP6NJ1" transform="rotate(209.8)"><text class="e" x="-219" transform="rotate(180)">CYP6NJ1</text></g>
<g id="CYP6NJ2" transform="rotate(212.1)"><text class="e" x="-219" transform="rotate(180)">CYP6NJ2</text></g>
<g id="CYP6NE1" transform="rotate(214.4)"><text class="e" x="-208" transform="rotate(180)">CYP6NE1</text></g>
<g id="CYP6NF1" transform="rotate(216.7)"><text class="e" x="-208" transform="rotate(180)">CYP6NF1</text></g>
<g id="CYP6NH1" transform="rotate(219)"><text class="e" x="-208" transform="rotate(180)">CYP6NH1</text></g>
<g id="CYP6NG1" transform="rotate(221.3)"><text class="e" x="-208" transform="rotate(180)">CYP6NG1</text><circle class="mk" cx="245.5" r="2.2"/></g>
<g id="CYP6ND1" transform="rotate(223.5)"><text class="e" x="-208" transform="rotate(180)">CYP6ND1</text><circle class="mk" cx="245.1" r="2.2"/></g>
<g id="CYP6ND2" transform="rotate(225.8)"><text class="e" x="-208" transform="rotate(180)">CYP6ND2</text><circle class="mk" cx="245.1" r="2.2"/></g>
<g id="CYP6NC1" transform="rotate(228.1)"><text class="e" x="-208" transform="rotate(180)">CYP6NC1</text><circle class="mk" cx="245.1" r="2.2"/></g>
<g id="CYP6BS7" transform="rotate(230.4)"><text class="e" x="-208" transform="rotate(180)">CYP6BS7</text></g>
<g id="CYP6MY1" transform="rotate(232.7)"><text class="e" x="-202" transform="rotate(180)">CYP6MY1</text><circle class="mk" cx="239.5" r="2.2"/></g>
<g id="CYP6NB1" transform="rotate(235)"><text class="e" x="-202" transform="rotate(180)">CYP6NB1</text><circle class="mk" cx="238.7" r="2.2"/></g>
<g id="CYP6NA1" transform="rotate(237.3)"><text class="e" x="-202" transform="rotate(180)">CYP6NA1</text><circle class="mk" cx="238.7" r="2.2"/></g>
<g id="CYP6NA2" transform="rotate(239.6)"><text class="e" x="-202" transform="rotate(180)">CYP6NA2</text><circle class="mk" cx="238.7" r="2.2"/></g>
<g id="CYP6MZ3" transform="rotate(241.9)"><text class="e" x="-202" transform="rotate(180)">CYP6MZ3</text></g>
<g id="CYP6MZ1" transform="rotate(244.2)"><text class="e" x="-202" transform="rotate(180)">CYP6MZ1</text></g>
<g id="CYP6MZ2" transform="rotate(246.4)"><text class="e" x="-202" transform="rotate(180)">CYP6MZ2</text><circle class="mk" cx="239.1" r="2.2"/></g>
<g id="CYP6MW1" transform="rotate(248.7)"><text class="e" x="-202" transform="rotate(180)">CYP6MW1</text></g>
<g id="CYP6MW3" transform="rotate(251)"><text class="e" x="-202" transform="rotate(180)">CYP6MW3</text></g>
<g id="CYP6MW4" transform="rotate(253.3)"><text class="e" x="-202" transform="rotate(180)">CYP6MW4</text></g>
<g id="CYP6MW6v1" transform="rotate(255.6)"><text class="e" x="-202" transform="rotate(180)">CYP6MW6v1</text></g>
<g id="CYP6MW5" transform="rotate(257.9)"><text class="e" x="-202" transform="rotate(180)">CYP6MW5</text><circle class="mk" cx="241.6" r="2.2"/></g>
<g id="CYP6MX1" transform="rotate(260.2)"><text class="e" x="-202" transform="rotate(180)">CYP6MX1</text><circle class="mk" cx="239.5" r="2.2"/></g>
<g id="CYP6MX2" transform="rotate(262.5)"><text class="e" x="-202" transform="rotate(180)">CYP6MX2</text><circle class="mk" cx="239.5" r="2.2"/></g>
<g id="CYP6MV1" transform="rotate(264.8)"><text class="e" x="-202" transform="rotate(180)">CYP6MV1</text><circle class="mk" cx="239.5" r="2.2"/></g>
<g id="CYP3334A1" transform="rotate(266.7)"><text class="e" x="-225" transform="rotate(180)">CYP3334A1</text></g>
<g id="CYP3332A1" transform="rotate(268.7)"><text class="e" x="-225" transform="rotate(180)">CYP3332A1</text></g>
<g id="CYP3333A3" transform="rotate(270.6)"><text class="e" x="-225" transform="rotate(180)">CYP3333A3</text></g>
<g id="CYP3333A1" transform="rotate(272.6)"><text class="e" x="-225" transform="rotate(180)">CYP3333A1</text></g>
<g id="CYP3333A2" transform="rotate(274.6)"><text class="e" x="-225" transform="rotate(180)">CYP3333A2</text></g>
<g id="CYP9DH1" transform="rotate(276.6)"><text x="233">CYP9DH1</text></g>
<g id="CYP9DJ1" transform="rotate(278.8)"><text x="233">CYP9DJ1</text></g>
<g id="CYP9DE1" transform="rotate(281.1)"><text x="233">CYP9DE1</text></g>
<g id="CYP9DG1" transform="rotate(283.3)"><text x="233">CYP9DG1</text></g>
<g id="CYP9DG2" transform="rotate(285.5)"><text x="233">CYP9DG2</text></g>
<g id="CYP9DD3" transform="rotate(287.8)"><text x="211">CYP9DD3</text></g>
<g id="CYP9DD1" transform="rotate(290)"><text x="211">CYP9DD1</text></g>
<g id="CYP9DD2" transform="rotate(292.2)"><text x="211">CYP9DD2</text></g>
<g id="CYP9DF1" transform="rotate(294.4)"><text x="233">CYP9DF1</text></g>
<g id="CYP9DK1" transform="rotate(296.7)"><text x="233">CYP9DK1</text></g>
<g id="CYP9DB1" transform="rotate(298.9)"><text x="210">CYP9DB1</text></g>
<g id="CYP9DC1" transform="rotate(301.1)"><text x="210">CYP9DC1</text></g>
<g id="CYP9DA4" transform="rotate(303.4)"><text x="210">CYP9DA4</text></g>
<g id="CYP9DA2v1" transform="rotate(305.6)"><text x="210">CYP9DA2v1</text></g>
<g id="CYP9DA3" transform="rotate(307.8)"><text x="210">CYP9DA3</text></g>
<g id="CYP9CY1" transform="rotate(310.1)"><text x="210">CYP9CY1</text></g>
<g id="CYP9CZ1" transform="rotate(312.3)"><text x="210">CYP9CZ1</text></g>
<g id="CYP9CU1" transform="rotate(314.5)"><text x="210">CYP9CU1</text></g>
<g id="CYP9CT4" transform="rotate(316.7)"><text x="210">CYP9CT4</text></g>
<g id="CYP9CT2" transform="rotate(319)"><text x="210">CYP9CT2</text></g>
<g id="CYP9CT1" transform="rotate(321.2)"><text x="210">CYP9CT1</text></g>
<g id="CYP9CT3" transform="rotate(323.4)"><text x="210">CYP9CT3</text></g>
<g id="CYP9CV14" transform="rotate(325.7)"><text x="210">CYP9CV14</text></g>
<g id="CYP9CV11" transform="rotate(327.9)"><text x="210">CYP9CV11</text></g>
<g id="CYP9CV13" transform="rotate(330.1)"><text x="210">CYP9CV13</text></g>
<g id="CYP9CV3v1" transform="rotate(332.4)"><text x="210">CYP9CV3v1</text></g>
<g id="CYP9CV4" transform="rotate(334.6)"><text x="210">CYP9CV4</text></g>
<g id="CYP9CV10" transform="rotate(336.8)"><text x="210">CYP9CV10</text></g>
<g id="CYP9CV9" transform="rotate(339)"><text x="210">CYP9CV9</text></g>
<g id="CYP9CV8" transform="rotate(341.3)"><text x="210">CYP9CV8</text></g>
<g id="CYP9CV5" transform="rotate(343.5)"><text x="210">CYP9CV5</text></g>
<g id="CYP9CV6v1" transform="rotate(345.7)"><text x="210">CYP9CV6v1</text></g>
<g id="CYP9CV1" transform="rotate(348)"><text x="210">CYP9CV1</text></g>
<g id="CYP9CV2v1" transform="rotate(350.2)"><text x="210">CYP9CV2v1</text></g>
<g id="CYP9CX1" transform="rotate(352.4)"><text x="210">CYP9CX1</text></g>
<g id="CYP9CW1" transform="rotate(354.7)"><text x="210">CYP9CW1</text></g>
<g id="CYP9CW2" transform="rotate(356.9)"><text x="210">CYP9CW2</text></g>
<g id="CYP9CW3" transform="rotate(359.1)"><text x="210">CYP9CW3</text></g>
</g>
</g>
<g id="clan-labels">
<text class="clan" x="5" y="79" textLength="70" lengthAdjust="spacingAndGlyphs">CYP3 clan</text>
<text class="clan" x="546" y="313" textLength="63" lengthAdjust="spacingAndGlyphs">Mito clan</text>
<text class="clan" x="502" y="498" textLength="70" lengthAdjust="spacingAndGlyphs">CYP2 clan</text>
<text class="clan" x="145" y="534" textLength="70" lengthAdjust="spacingAndGlyphs">CYP4 clan</text>
</g>
<g id="scale-bar">
<line x1="260" y1="542" x2="291" y2="542" stroke="#231f20" stroke-width="1"/>
<text x="275.5" y="555" text-anchor="middle" font-family="Liberation Sans, Arial, sans-serif" font-size="9" fill="#231f20">0.06</text>
</g>
</svg>
